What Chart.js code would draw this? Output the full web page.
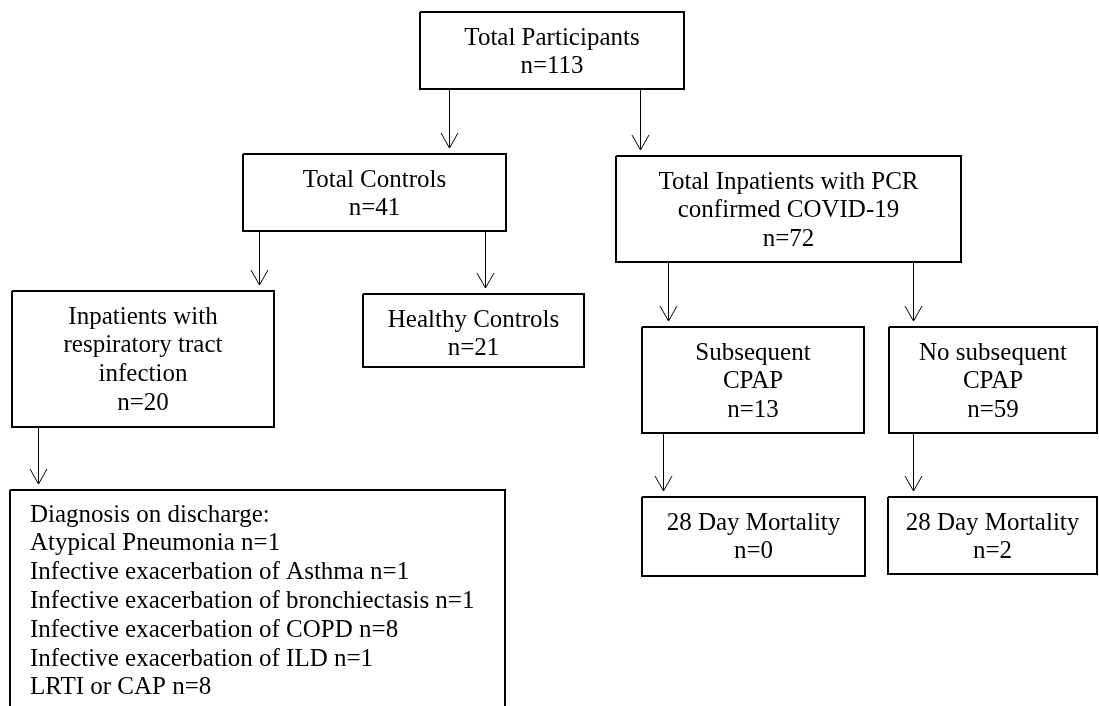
<!DOCTYPE html>
<html>
<head>
<meta charset="UTF-8">
<title>Participant flow</title>
<script src="https://cdn.jsdelivr.net/npm/chart.js"></script>
<style>
  body { margin: 0; background: #fff; }
  .wrap { position: relative; width: 1099px; height: 706px; }
</style>
</head>
<body>
<div class="wrap"><canvas id="flow"></canvas></div>
<script>
// node labels (without the count line) and counts
const nodeLabels = [
  ['Total Participants'],
  ['Total Controls'],
  ['Total Inpatients with PCR', 'confirmed COVID-19'],
  ['Inpatients with', 'respiratory tract', 'infection'],
  ['Healthy Controls'],
  ['Subsequent', 'CPAP'],
  ['No subsequent', 'CPAP'],
  ['28 Day Mortality'],
  ['28 Day Mortality']
];
const nodeCounts = [113, 41, 72, 20, 21, 13, 59, 0, 2];

// discharge diagnoses of the respiratory infection group
const diagnosisTitle = 'Diagnosis on discharge:';
const diagnoses = [
  'Atypical Pneumonia',
  'Infective exacerbation of Asthma',
  'Infective exacerbation of bronchiectasis',
  'Infective exacerbation of COPD',
  'Infective exacerbation of ILD',
  'LRTI or CAP'
];
const diagnosisCounts = [1, 1, 1, 8, 1, 8];

// parent -> child (node 9 = diagnosis box)
const links = [[0, 1], [0, 2], [1, 3], [1, 4], [2, 5], [2, 6], [3, 9], [5, 7], [6, 8]];

// layout, in page units (x0, y0, x1, y1)
const boxes = [
  [420, 12, 684, 89],
  [243, 154, 506, 231],
  [616, 156, 961, 262],
  [12, 291, 274, 427],
  [363, 294, 584, 367],
  [642, 327, 864, 433],
  [889, 327, 1097, 433],
  [642, 497, 865, 576],
  [888, 497, 1097, 574],
  [10, 490, 505, 720]
];
const arrowX = [449, 640, 259, 485, 668, 913, 38, 663, 913];

const FONT = '25px "Liberation Serif", "Times New Roman", serif';
const LINE_H = 28.8;
const FIRST_BASE = 32.5;

const datasets = [];
boxes.forEach(b => {
  datasets.push({
    data: [
      { x: b[0], y: b[1] }, { x: b[2], y: b[1] }, { x: b[2], y: b[3] },
      { x: b[0], y: b[3] }, { x: b[0], y: b[1] }
    ],
    showLine: true, borderColor: '#000', borderWidth: 2,
    borderJoinStyle: 'miter', pointRadius: 0, tension: 0, fill: false
  });
});
links.forEach((l, i) => {
  const x = arrowX[i] + 0.5;
  const y0 = boxes[l[0]][3];
  const tip = boxes[l[1]][1] - 6;
  datasets.push({
    data: [{ x: x, y: y0 }, { x: x, y: tip }],
    showLine: true, borderColor: '#000', borderWidth: 1, pointRadius: 0
  });
  datasets.push({
    data: [{ x: x - 8.5, y: tip - 15 }, { x: x, y: tip }, { x: x + 8.5, y: tip - 15 }],
    showLine: true, borderColor: '#000', borderWidth: 1, pointRadius: 0
  });
});

const textPlugin = {
  id: 'boxText',
  afterDatasetsDraw(chart) {
    const ctx = chart.ctx;
    const sx = chart.scales.x, sy = chart.scales.y;
    ctx.save();
    ctx.font = FONT;
    ctx.fillStyle = '#000';
    ctx.textBaseline = 'alphabetic';
    ctx.textAlign = 'center';
    nodeLabels.forEach((lines, i) => {
      const b = boxes[i];
      const cx = sx.getPixelForValue((b[0] + b[2]) / 2);
      const all = lines.concat('n=' + nodeCounts[i]);
      all.forEach((t, k) => {
        ctx.fillText(t, cx, sy.getPixelForValue(b[1] + FIRST_BASE + k * LINE_H));
      });
    });
    // diagnosis list, left aligned
    const d = boxes[9];
    ctx.textAlign = 'left';
    const rows = [diagnosisTitle].concat(diagnoses.map((t, i) => t + ' n=' + diagnosisCounts[i]));
    rows.forEach((t, k) => {
      ctx.fillText(t, sx.getPixelForValue(d[0] + 20), sy.getPixelForValue(d[1] + FIRST_BASE - 1 + k * LINE_H));
    });
    ctx.restore();
  }
};

new Chart(document.getElementById('flow'), {
  type: 'scatter',
  data: { datasets: datasets },
  options: {
    responsive: true,
    maintainAspectRatio: false,
    animation: false,
    events: [],
    layout: { padding: 0 },
    plugins: { legend: { display: false }, tooltip: { enabled: false } },
    scales: {
      x: { type: 'linear', min: 0, max: 1099, display: false },
      y: { type: 'linear', min: 0, max: 706, reverse: true, display: false }
    }
  },
  plugins: [textPlugin]
});
</script>
</body>
</html>
